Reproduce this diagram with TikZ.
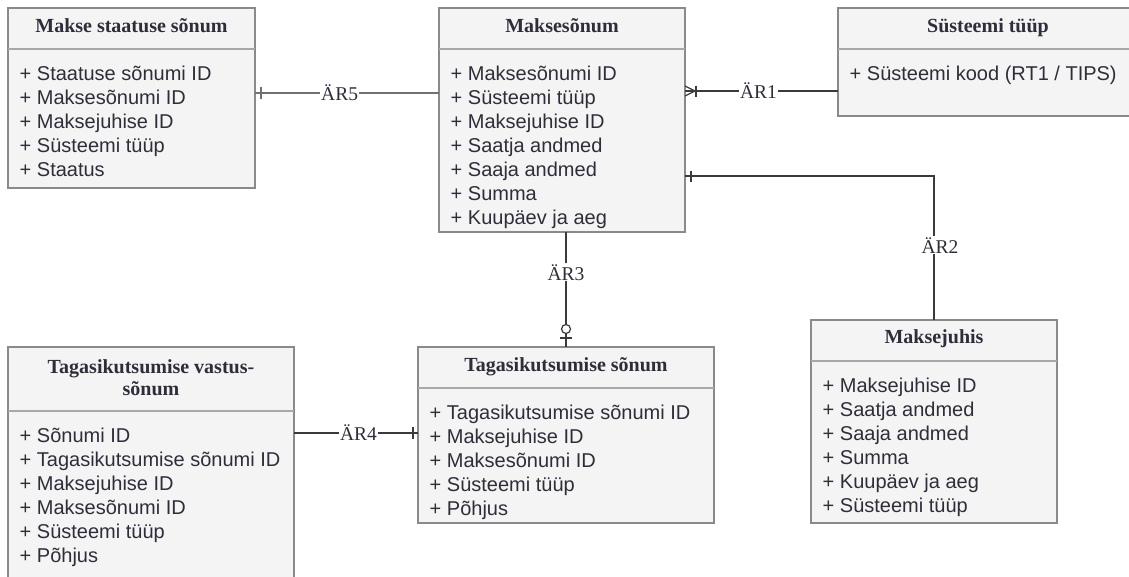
\documentclass[tikz,border=0pt]{standalone}
\usepackage{fontspec}
\setmainfont{Liberation Serif}
\newfontfamily\bodyfont{Liberation Sans}
\usetikzlibrary{calc}

\definecolor{boxfill}{HTML}{F4F4F4}
\definecolor{boxline}{HTML}{8A8A8A}
\definecolor{divline}{HTML}{A8A8A8}
\definecolor{txt}{HTML}{2E2E3A}
\definecolor{conncol}{HTML}{3A3A3A}
\definecolor{connlight}{HTML}{707070}

\tikzset{
  entity/.style={draw=boxline, fill=boxfill, line width=1.3pt, anchor=north west,
                 inner sep=0pt, outer sep=0pt},
  divider/.style={draw=divline, line width=1.3pt},
  head/.style={font=\fontsize{20}{22}\selectfont\bfseries, text=txt, inner sep=0pt, anchor=base},
  body/.style={font=\bodyfont\fontsize{20}{24}\selectfont, text=txt, inner sep=0pt, anchor=base west},
  conn/.style={draw=conncol, line width=1.2pt},
  lbl/.style={font=\fontsize{19.5}{22}\selectfont, text=txt, fill=white, inner sep=1pt},
}

% #1 name, #2 x, #3 y, #4 width, #5 height, #6 header height, #7 title baseline, #8 title, #9 rows
\newcommand\erentity[9]{%
  \node[entity, minimum width=#4pt, minimum height=#5pt] (#1) at (#2,#3) {};
  \draw[divider] ([yshift=-#6pt]#1.north west) -- ([yshift=-#6pt]#1.north east);
  \node[head] (#1-title) at ([yshift=-#7pt]#1.north)
    {\begin{tabular}[t]{@{}c@{}}#8\end{tabular}};
  \node[body] (#1-rows) at ([xshift=11.5pt, yshift={-#6pt-31pt}]#1.north west)
    {\begin{tabular}[t]{@{}l@{}}#9\end{tabular}};
}

\begin{document}
\begin{tikzpicture}[x=1pt, y=-1pt]
  \useasboundingbox (0,0) rectangle (1129,576);
  \clip (0,0) rectangle (1129,576);

  % entities
  \erentity{staatus}{8}{8}{247}{180}{41}{24}{Makse staatuse sõnum}
    {+ Staatuse sõnumi ID\\ + Maksesõnumi ID\\ + Maksejuhise ID\\ + Süsteemi tüüp\\ + Staatus}
  \erentity{makse}{439}{8}{246}{224}{41}{24}{Maksesõnum}
    {+ Maksesõnumi ID\\ + Süsteemi tüüp\\ + Maksejuhise ID\\ + Saatja andmed\\ + Saaja andmed\\ + Summa\\ + Kuupäev ja aeg}
  \erentity{systeem}{838}{8}{300}{108}{41}{24}{Süsteemi tüüp}
    {+ Süsteemi kood (RT1 / TIPS)}
  \erentity{juhis}{811}{320}{246}{203}{41}{23}{Maksejuhis}
    {+ Maksejuhise ID\\ + Saatja andmed\\ + Saaja andmed\\ + Summa\\ + Kuupäev ja aeg\\ + Süsteemi tüüp}
  \erentity{tagasi}{418}{347}{296}{176}{41}{24}{Tagasikutsumise sõnum}
    {+ Tagasikutsumise sõnumi ID\\ + Maksejuhise ID\\ + Maksesõnumi ID\\ + Süsteemi tüüp\\ + Põhjus}
  \erentity{vastus}{8}{347}{286}{260}{64}{26}{Tagasikutsumise vastus-\\ sõnum}
    {+ Sõnumi ID\\ + Tagasikutsumise sõnumi ID\\ + Maksejuhise ID\\ + Maksesõnumi ID\\ + Süsteemi tüüp\\ + Põhjus}

  % connector end points
  \coordinate (r5a) at (staatus.east |- 0,93);
  \coordinate (r5b) at (makse.west |- 0,93);
  \coordinate (r1a) at (makse.east |- 0,91);
  \coordinate (r1b) at (systeem.west |- 0,91);
  \coordinate (r2a) at (makse.east |- 0,176);
  \coordinate (r3a) at (makse.south -| tagasi.north);
  \coordinate (r4a) at (vastus.east |- 0,433);
  \coordinate (r4b) at (tagasi.west |- 0,433);

  % ÄR5: one to one
  \draw[conn, draw=connlight] (r5a) -- node[lbl, pos=0.46] {ÄR5} (r5b);
  \draw[conn, draw=connlight] ([xshift=6pt]r5a) ++(0,-6) -- ++(0,12);

  % ÄR1: one or many at the payment message
  \draw[conn] (r1a) -- node[lbl, pos=0.48] {ÄR1} (r1b);
  \draw[conn] (r1a) ++(0,-5) -- ++(10,5) -- ++(-10,5);
  \draw[conn] ([xshift=11pt]r1a) ++(0,-5.5) -- ++(0,11);

  % ÄR2: one, elbow down to the payment order
  \draw[conn] (r2a) -| node[lbl, pos=0.74, xshift=6pt] {ÄR2} (juhis.north);
  \draw[conn] ([xshift=6pt]r2a) ++(0,-5.5) -- ++(0,11);

  % ÄR3: zero or one at the recall message
  \draw[conn] (r3a) -- node[lbl, pos=0.35] {ÄR3} (tagasi.north);
  \draw[conn] ([yshift=9pt]tagasi.north) ++(-6,0) -- ++(12,0);
  \draw[conn, fill=white] ([yshift=18pt]tagasi.north) circle[radius=4.5pt];

  % ÄR4: one at the recall message
  \draw[conn] (r4a) -- node[lbl, pos=0.52] {ÄR4} (r4b);
  \draw[conn] ([xshift=-5pt]r4b) ++(0,-6) -- ++(0,12);
\end{tikzpicture}
\end{document}
